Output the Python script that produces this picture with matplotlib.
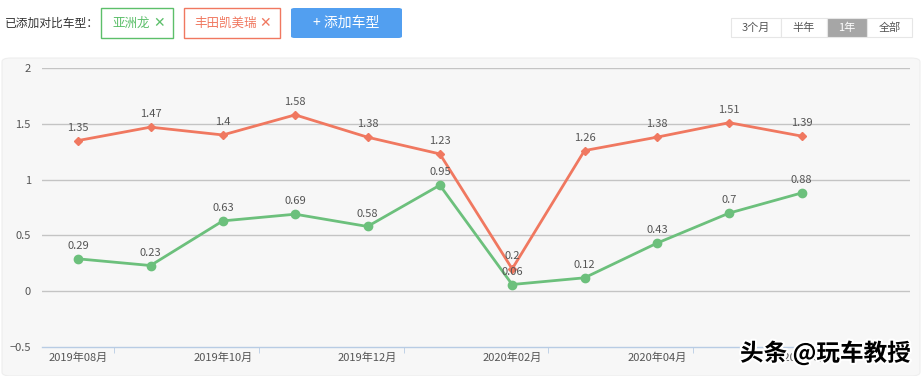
import matplotlib
matplotlib.use("Agg")
import matplotlib.pyplot as plt
from matplotlib.patches import FancyBboxPatch, Rectangle
import matplotlib.patheffects as pe

plt.rcParams['font.family'] = ['Noto Sans CJK SC', 'DejaVu Sans']

# 数据
months = ['2019年08月', '2019年09月', '2019年10月', '2019年11月', '2019年12月', '2020年01月',
          '2020年02月', '2020年03月', '2020年04月', '2020年05月', '2020年06月']
camry = [1.35, 1.47, 1.4, 1.58, 1.38, 1.23, 0.2, 1.26, 1.38, 1.51, 1.39]
avalon = [0.29, 0.23, 0.63, 0.69, 0.58, 0.95, 0.06, 0.12, 0.43, 0.7, 0.88]
yticks = [-0.5, 0, 0.5, 1, 1.5, 2]

W, H = 922, 376
fig = plt.figure(figsize=(W / 100, H / 100), dpi=100)
fig.patch.set_facecolor('white')

def fx(px):
    return px / W

def fy(py):
    return 1 - py / H

# 灰色背景面板
fig.patches.append(FancyBboxPatch((fx(2), 0), fx(918), fy(58), boxstyle="round,pad=0,rounding_size=0.01",
                                  transform=fig.transFigure, facecolor='#f7f7f7', edgecolor='#eeeeee',
                                  lw=0.8, zorder=-5))

# 顶部控件
fig.text(fx(5), fy(23), '已添加对比车型：', fontsize=8.5, color='#333333', va='center')

def box(x0, y0, w, h, ec, fc='white', lw=1.0):
    fig.patches.append(Rectangle((fx(x0), fy(y0 + h)), fx(w), h / H, transform=fig.transFigure,
                                 facecolor=fc, edgecolor=ec, lw=lw))

box(101, 8, 72, 30, '#5cbf6a')
fig.text(fx(112), fy(23), '亚洲龙', fontsize=9, color='#5cbf6a', va='center')
fig.text(fx(153), fy(23), '✕', fontsize=10, color='#5cbf6a', va='center', family='DejaVu Sans')
box(184, 8, 96, 30, '#f07860')
fig.text(fx(194), fy(23), '丰田凯美瑞', fontsize=9, color='#f07860', va='center')
fig.text(fx(259), fy(23), '✕', fontsize=10, color='#f07860', va='center', family='DejaVu Sans')
fig.patches.append(FancyBboxPatch((fx(291), fy(38)), fx(111), 30 / H, boxstyle="round,pad=0,rounding_size=0.004",
                                  transform=fig.transFigure, facecolor='#529ff0', edgecolor='none'))
fig.text(fx(346), fy(23), '+ 添加车型', fontsize=10, color='white', va='center', ha='center')

ranges = [('3个月', 731, 50), ('半年', 781, 46), ('1年', 827, 40), ('全部', 867, 45)]
for lab, x0, w in ranges:
    sel = lab == '1年'
    box(x0, 18, w, 19, '#e6e6e6', fc='#a6a6a6' if sel else 'white', lw=0.8)
    fig.text(fx(x0 + w / 2), fy(27.5), lab, fontsize=8, color='white' if sel else '#555555',
             va='center', ha='center')

# 主图
ax = fig.add_axes([fx(42), fy(347), fx(868), 279 / H])
ax.set_facecolor('none')
x = list(range(len(months)))
ax.plot(x, camry, color='#f07860', lw=2, marker='D', ms=4.5, zorder=3)
ax.plot(x, avalon, color='#6cc07c', lw=2, marker='o', ms=6, zorder=3)
for i, v in enumerate(camry):
    ax.annotate(str(v), (i, v), xytext=(0, 7), textcoords='offset points', ha='center',
                fontsize=8, color='#555555')
for i, v in enumerate(avalon):
    ax.annotate(str(v), (i, v), xytext=(0, 7), textcoords='offset points', ha='center',
                fontsize=8, color='#555555')

ax.set_xlim(-0.5, 11.5)
ax.set_ylim(-0.5, 2)
ax.set_yticks(yticks)
ax.set_yticklabels(['−0.5', '0', '0.5', '1', '1.5', '2'])
for yv in yticks[1:]:
    ax.axhline(yv, color='#c4c4c4', lw=1, zorder=1)
ax.tick_params(axis='y', length=0, labelsize=8, labelcolor='#555555', pad=8)
ax.set_xticks(x[::2])
ax.set_xticklabels(months[::2])
ax.tick_params(axis='x', which='major', length=0, labelsize=8, labelcolor='#555555', pad=4)
ax.set_xticks([i + 0.5 for i in x[::2]], minor=True)
ax.tick_params(axis='x', which='minor', length=4, color='#b8cce4', direction='out')
for s in ['top', 'right', 'left']:
    ax.spines[s].set_visible(False)
ax.spines['bottom'].set_color('#b8cce4')
ax.spines['bottom'].set_linewidth(1)

# 水印
fig.text(fx(740), fy(353), '头条 @玩车教授', fontsize=17, color='black', va='center', fontweight='bold',
         path_effects=[pe.withStroke(linewidth=3, foreground='white')])

fig.savefig('out.png', dpi=100)
